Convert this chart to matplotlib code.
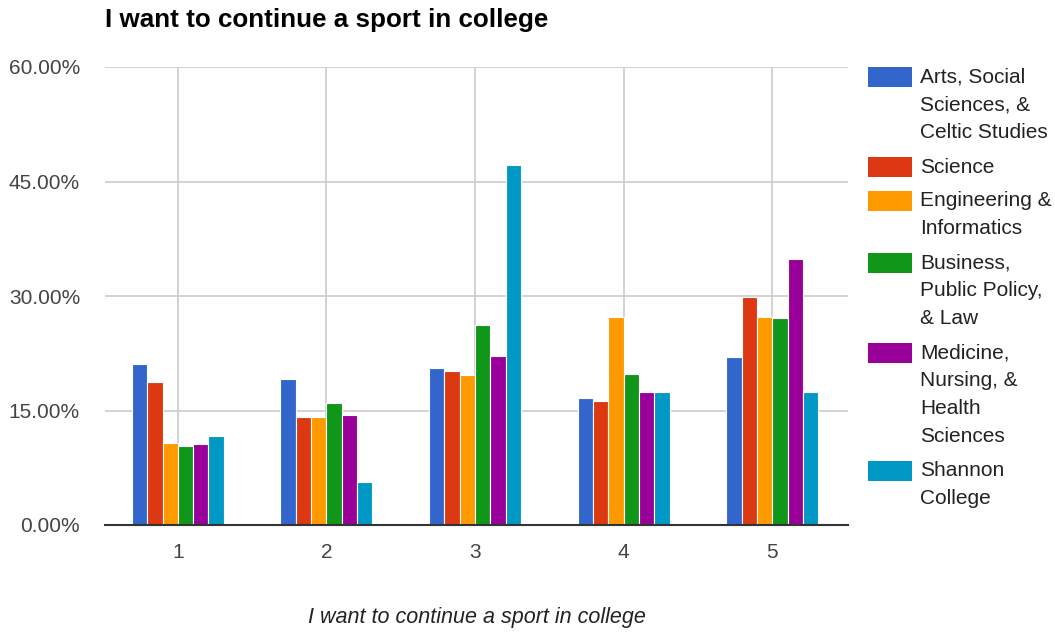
import matplotlib
matplotlib.use("Agg")
import matplotlib.pyplot as plt
import numpy as np
from matplotlib.patches import Rectangle
from matplotlib.ticker import FuncFormatter

plt.rcParams["font.family"] = ["Liberation Sans", "DejaVu Sans"]

# Survey answers on a 1-5 scale and the share of each faculty giving that answer (%)
categories = ["1", "2", "3", "4", "5"]
series_names = [
    "Arts, Social\nSciences, &\nCeltic Studies",
    "Science",
    "Engineering &\nInformatics",
    "Business,\nPublic Policy,\n& Law",
    "Medicine,\nNursing, &\nHealth\nSciences",
    "Shannon\nCollege",
]
arts = [21.1, 19.1, 20.6, 16.6, 22.0]
science = [18.7, 14.2, 20.2, 16.2, 29.9]
engineering = [10.7, 14.2, 19.6, 27.3, 27.3]
business = [10.3, 16.0, 26.2, 19.8, 27.1]
medicine = [10.6, 14.4, 22.1, 17.4, 34.8]
shannon = [11.6, 5.6, 47.1, 17.4, 17.4]
y_ticks = [0, 15, 30, 45, 60]

series = [arts, science, engineering, business, medicine, shannon]
colors = ["#3366CC", "#DC3912", "#FF9900", "#109618", "#990099", "#0099C6"]

W, H = 1055, 632
fig = plt.figure(figsize=(W / 100, H / 100), dpi=100)
ax = fig.add_axes([105 / W, (H - 525) / H, (848 - 105) / W, (525 - 67) / H])

x = np.arange(1, len(categories) + 1)
slot = 0.103
n = len(series)
for i, (vals, col) in enumerate(zip(series, colors)):
    offs = (i - (n - 1) / 2) * slot
    ax.bar(x + offs, vals, width=slot, color=col, edgecolor="white",
           linewidth=0.8, zorder=3)

ax.set_xlim(0.51, 5.51)
ax.set_ylim(0, 60)
ax.set_yticks(y_ticks)
ax.yaxis.set_major_formatter(FuncFormatter(lambda v, p: f"{v:.2f}%"))
ax.set_xticks(x)
ax.set_xticklabels(categories)

ax.grid(True, color="#cccccc", linewidth=1.2, zorder=0)
for s in ["top", "right", "left"]:
    ax.spines[s].set_visible(False)
ax.spines["bottom"].set_color("#333333")
ax.spines["bottom"].set_linewidth(1.5)
ax.spines["bottom"].set_zorder(4)
ax.tick_params(axis="both", length=0, labelsize=15, colors="#444444")
ax.tick_params(axis="y", pad=18)
ax.tick_params(axis="x", pad=13)

fig.text(105 / W, 1 - 20 / H, "I want to continue a sport in college",
         fontsize=18.7, fontweight="bold", color="#000000",
         ha="left", va="center")
ax.set_xlabel("I want to continue a sport in college", fontsize=15.5,
              style="italic", color="#222222", labelpad=32)

# Legend: swatch aligned with the first line of each wrapped label
line_h = 28
gap = 6
top = 67
for name, col in zip(series_names, colors):
    nlines = name.count("\n") + 1
    fig.patches.append(Rectangle((868 / W, 1 - (top + 20) / H), 44 / W, 20 / H,
                                 transform=fig.transFigure, facecolor=col,
                                 edgecolor="none"))
    for j, line in enumerate(name.split("\n")):
        fig.text(920 / W, 1 - (top + 10 + j * line_h) / H, line,
                 fontsize=15, color="#222222", ha="left", va="center")
    top += nlines * line_h + gap

fig.savefig("out.png", dpi=100)
